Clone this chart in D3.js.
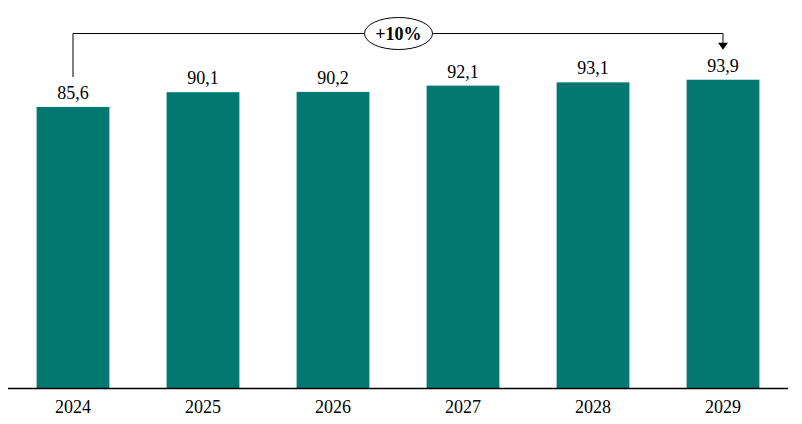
<!DOCTYPE html>
<html><head><meta charset="utf-8">
<script src="https://cdn.jsdelivr.net/npm/d3@7"></script>
<style>body{margin:0;background:#fff}svg{display:block}</style>
</head><body>
<script>
const years = ["2024","2025","2026","2027","2028","2029"];
const values = [85.6, 90.1, 90.2, 92.1, 93.1, 93.9];
const valueLabels = ["85,6","90,1","90,2","92,1","93,1","93,9"];
const growthLabel = "+10%";

const W = 802, H = 424;
const svg = d3.select("body").append("svg").attr("width", W).attr("height", H);
const font = "'Liberation Serif', 'Times New Roman', serif";

const x = d3.scaleBand().domain(years).range([8, 788]).paddingInner(0.44).paddingOuter(0.22);
const y = d3.scaleLinear().domain([0, 100]).range([388, 59.7]);

svg.selectAll("rect.bar").data(years).join("rect")
  .attr("class","bar")
  .attr("x", d => x(d)).attr("width", x.bandwidth())
  .attr("y", (d,i) => y(values[i])).attr("height", (d,i) => y(0) - y(values[i]))
  .attr("fill", "#037870");

svg.selectAll("text.val").data(years).join("text")
  .attr("class","val")
  .attr("x", d => x(d) + x.bandwidth()/2)
  .attr("y", (d,i) => y(values[i]) - 8)
  .attr("text-anchor","middle")
  .style("font-family", font).style("font-size","18px").attr("fill","#000")
  .text((d,i) => valueLabels[i]);

const xAxis = d3.axisBottom(x).tickSize(0).tickPadding(12);
const gx = svg.append("g").attr("transform","translate(0,388)").call(xAxis);
gx.select(".domain").attr("d","M8,0.5H788").attr("stroke","#000").attr("stroke-width",1.3);
gx.selectAll("text").style("font-family", font).style("font-size","18px").attr("fill","#000");

// growth annotation
const x0 = x(years[0]) + x.bandwidth()/2;
const x1 = x(years[years.length-1]) + x.bandwidth()/2;
const topY = 33.5;
const startY = y(values[0]) - 30;
const endY = y(values[values.length-1]) - 30;
svg.append("path")
  .attr("d", `M${x0},${startY}V${topY}H${x1}V${endY-6}`)
  .attr("fill","none").attr("stroke","#000").attr("stroke-width",1);
svg.append("path")
  .attr("d", `M${x1-5},${endY-7}L${x1+5},${endY-7}L${x1},${endY}Z`)
  .attr("fill","#000");
const cx = 398.5;
svg.append("ellipse").attr("cx", cx).attr("cy", topY).attr("rx", 34).attr("ry", 16)
  .attr("fill","#fff").attr("stroke","#000").attr("stroke-width",1);
svg.append("text").attr("x", cx).attr("y", topY + 6).attr("text-anchor","middle")
  .style("font-family", font).style("font-size","18px").style("font-weight","bold")
  .text(growthLabel);
</script>
</body></html>
